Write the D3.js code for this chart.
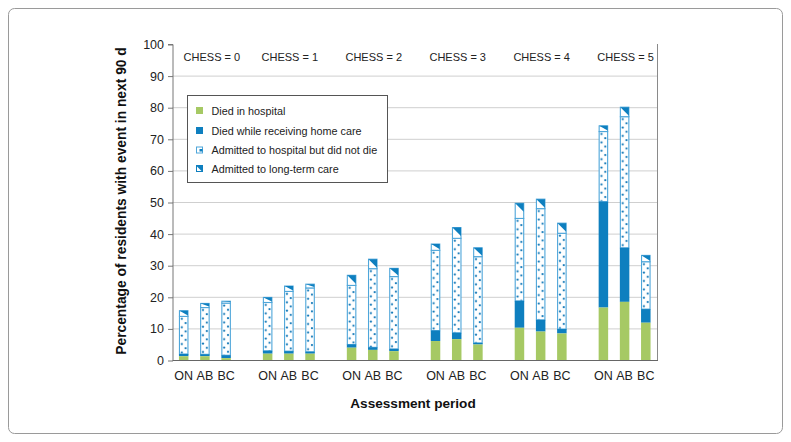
<!DOCTYPE html>
<html><head><meta charset="utf-8">
<script src="https://cdn.jsdelivr.net/npm/d3@7/dist/d3.min.js"></script>
<style>
body{margin:0;background:#fff;}
text{font-family:"Liberation Sans",Arial,Helvetica,sans-serif;}
</style></head>
<body><svg id="c" width="791" height="442"></svg>
<script>
// ---- data ----
const chessLevels = ["CHESS = 0","CHESS = 1","CHESS = 2","CHESS = 3","CHESS = 4","CHESS = 5"];
const periods = ["ON","AB","BC"];
const seriesNames = ["Died in hospital","Died while receiving home care","Admitted to hospital but did not die","Admitted to long-term care"];
// values per CHESS level, for each assessment period (percent)
const diedHospital = {
  ON: [1.2, 2.0, 3.9, 6.0, 10.2, 16.6],
  AB: [1.2, 2.0, 3.2, 6.6, 9.0, 18.4],
  BC: [0.6, 2.0, 2.8, 4.9, 8.4, 11.8]
};
const diedHomeCare = {
  ON: [0.7, 0.9, 1.0, 3.3, 8.5, 33.5],
  AB: [0.6, 0.8, 0.8, 2.0, 3.7, 17.1],
  BC: [0.9, 0.6, 0.7, 0.5, 1.4, 4.3]
};
const admittedHospital = {
  ON: [11.9, 15.3, 18.7, 25.4, 26.1, 22.2],
  AB: [14.8, 18.9, 24.9, 29.9, 35.2, 41.5],
  BC: [16.5, 20.2, 22.9, 27.3, 30.3, 15.0]
};
const admittedLTC = {
  ON: [1.8, 1.6, 3.2, 2.0, 4.8, 1.8],
  AB: [1.3, 1.7, 3.0, 3.4, 3.0, 3.0],
  BC: [0.6, 1.2, 2.6, 2.8, 3.2, 2.0]
};
const yTicks = [0,10,20,30,40,50,60,70,80,90,100];

// ---- layout ----
const svg = d3.select("#c");
const L = 172.5, R = 657, T = 44, B = 360;
const green = "#a6c964", dark = "#0e7fbf", light = "#4ea6da", dotC = "#1479b8";

// outer frame
svg.append("rect").attr("x",8.5).attr("y",8.5).attr("width",774).attr("height",425)
  .attr("rx",6).attr("fill","none").attr("stroke","#9a9a9a").attr("stroke-width",1);

const y = d3.scaleLinear().domain([0,100]).range([B,T]);
const xg = d3.scalePoint().domain(chessLevels).range([L,R]).padding(0.386);
const xi = d3.scalePoint().domain(periods).range([-21.2,21.2]);
const bw = 9.5;

// gridlines
svg.append("g").selectAll("line").data(yTicks.filter(d=>d>0 && d<100)).join("line")
  .attr("x1",L).attr("x2",R).attr("y1",d=>y(d)+0.5).attr("y2",d=>y(d)+0.5)
  .attr("stroke","#cfcfcf").attr("stroke-width",1);
// right border
svg.append("line").attr("x1",R+0.5).attr("x2",R+0.5).attr("y1",T).attr("y2",B)
  .attr("stroke","#8a8a8a");

// y axis
const ya = svg.append("g").attr("transform",`translate(${L+0.5},0.5)`)
  .call(d3.axisLeft(y).tickValues(yTicks).tickSize(5).tickPadding(4));
ya.select(".domain").attr("stroke","#777").attr("d",`M-5,${T}H0V${B}`);
ya.selectAll(".tick line").attr("stroke","#777");
ya.selectAll(".tick text").attr("font-size","12.5px").attr("fill","#222")
  .attr("font-family","Liberation Sans, Arial, sans-serif");

// bars
const defs = svg.append("defs");
const bars = [];
chessLevels.forEach((c,gi)=>{
  periods.forEach(p=>{
    const v = [diedHospital[p][gi], diedHomeCare[p][gi], admittedHospital[p][gi], admittedLTC[p][gi]];
    const x0 = xg(c) + xi(p) - bw/2;
    let acc = 0;
    const segs = v.map((val,k)=>{ const s={k, y0:acc, y1:acc+val}; acc+=val; return s; });
    bars.push({c,p,gi,x0,segs});
  });
});

bars.forEach((b,bi)=>{
  const g = svg.append("g");
  const pid = "dots"+bi;
  const pat = defs.append("pattern").attr("id",pid).attr("patternUnits","userSpaceOnUse")
    .attr("x",b.x0).attr("y",y(b.segs[2].y1)).attr("width",bw).attr("height",8.4);
  pat.append("rect").attr("width",bw).attr("height",8.4).attr("fill","#fff");
  pat.append("circle").attr("cx",bw*0.3).attr("cy",2.4).attr("r",1.1).attr("fill",dotC);
  pat.append("circle").attr("cx",bw*0.7).attr("cy",6.6).attr("r",1.1).attr("fill",dotC);

  const s0=b.segs[0], s1=b.segs[1], s2=b.segs[2], s3=b.segs[3];
  g.append("rect").attr("x",b.x0+0.5).attr("y",y(s2.y1)).attr("width",bw-1)
    .attr("height",y(s2.y0)-y(s2.y1)).attr("fill",`url(#${pid})`).attr("stroke",light).attr("stroke-width",1.1);
  const h3 = y(s3.y0)-y(s3.y1);
  g.append("rect").attr("x",b.x0+0.5).attr("y",y(s3.y1)).attr("width",bw-1)
    .attr("height",h3).attr("fill","#fff").attr("stroke",light).attr("stroke-width",1.1);
  const th = Math.min(bw-1, Math.max(h3-1,0));
  g.append("path").attr("d",`M${b.x0+0.5},${y(s3.y1)}H${b.x0+bw-0.5}V${y(s3.y1)+th}Z`)
    .attr("fill",dark);
  g.append("rect").attr("x",b.x0).attr("y",y(s1.y1)).attr("width",bw)
    .attr("height",y(s1.y0)-y(s1.y1)).attr("fill",dark);
  g.append("rect").attr("x",b.x0).attr("y",y(s0.y1)).attr("width",bw)
    .attr("height",y(s0.y0)-y(s0.y1)).attr("fill",green);
});

// bottom axis line
svg.append("line").attr("x1",L).attr("x2",R+1).attr("y1",B+0.5).attr("y2",B+0.5).attr("stroke","#666");

// period labels
svg.append("g").selectAll("text").data(bars).join("text")
  .attr("x",d=>d.x0+bw/2).attr("y",380)
  .attr("text-anchor","middle").attr("font-size","12.5px").attr("fill","#222").text(d=>d.p);

// CHESS labels
svg.append("g").selectAll("text").data(chessLevels).join("text")
  .attr("x",d=>xg(d)+ (d===chessLevels[0]?7:1)).attr("y",61)
  .attr("text-anchor","middle").attr("font-size","11px").attr("fill","#222").text(d=>d);

// axis titles
svg.append("text").attr("x",413).attr("y",408).attr("text-anchor","middle")
  .attr("font-size","13.6px").attr("font-weight","bold").attr("fill","#111").text("Assessment period");
svg.append("text").attr("transform","translate(126,201) rotate(-90)").attr("text-anchor","middle")
  .attr("font-size","13.8px").attr("font-weight","bold").attr("fill","#111")
  .text("Percentage of residents with event in next 90 d");

// legend
const lg = svg.append("g");
lg.append("rect").attr("x",187.5).attr("y",95.5).attr("width",200).attr("height",87)
  .attr("fill","#fff").attr("stroke","#555");
const ly = [110.5,130.5,150,168.5];
seriesNames.forEach((n,i)=>{
  const cy = ly[i], cx=199.5, s=7;
  if(i===0) lg.append("rect").attr("x",cx-s/2).attr("y",cy-s/2).attr("width",s).attr("height",s).attr("fill",green);
  if(i===1) lg.append("rect").attr("x",cx-s/2).attr("y",cy-s/2).attr("width",s).attr("height",s).attr("fill",dark);
  if(i===2){
    lg.append("rect").attr("x",cx-s/2+0.5).attr("y",cy-s/2+0.5).attr("width",s-1).attr("height",s-1).attr("fill","#fff").attr("stroke",light);
    lg.append("rect").attr("x",cx).attr("y",cy-1).attr("width",s/2-0.5).attr("height",2.5).attr("fill",dark);
  }
  if(i===3){
    lg.append("rect").attr("x",cx-s/2).attr("y",cy-s/2).attr("width",s).attr("height",s).attr("fill",dark);
    lg.append("path").attr("d",`M${cx-s/2+1},${cy-s/2+1.5}V${cy+s/2-1}H${cx+s/2-1.5}Z`).attr("fill","#fff");
  }
  lg.append("text").attr("x",211.5).attr("y",cy+4).attr("font-size","10.8px").attr("fill","#222").text(n);
});
</script></body></html>
